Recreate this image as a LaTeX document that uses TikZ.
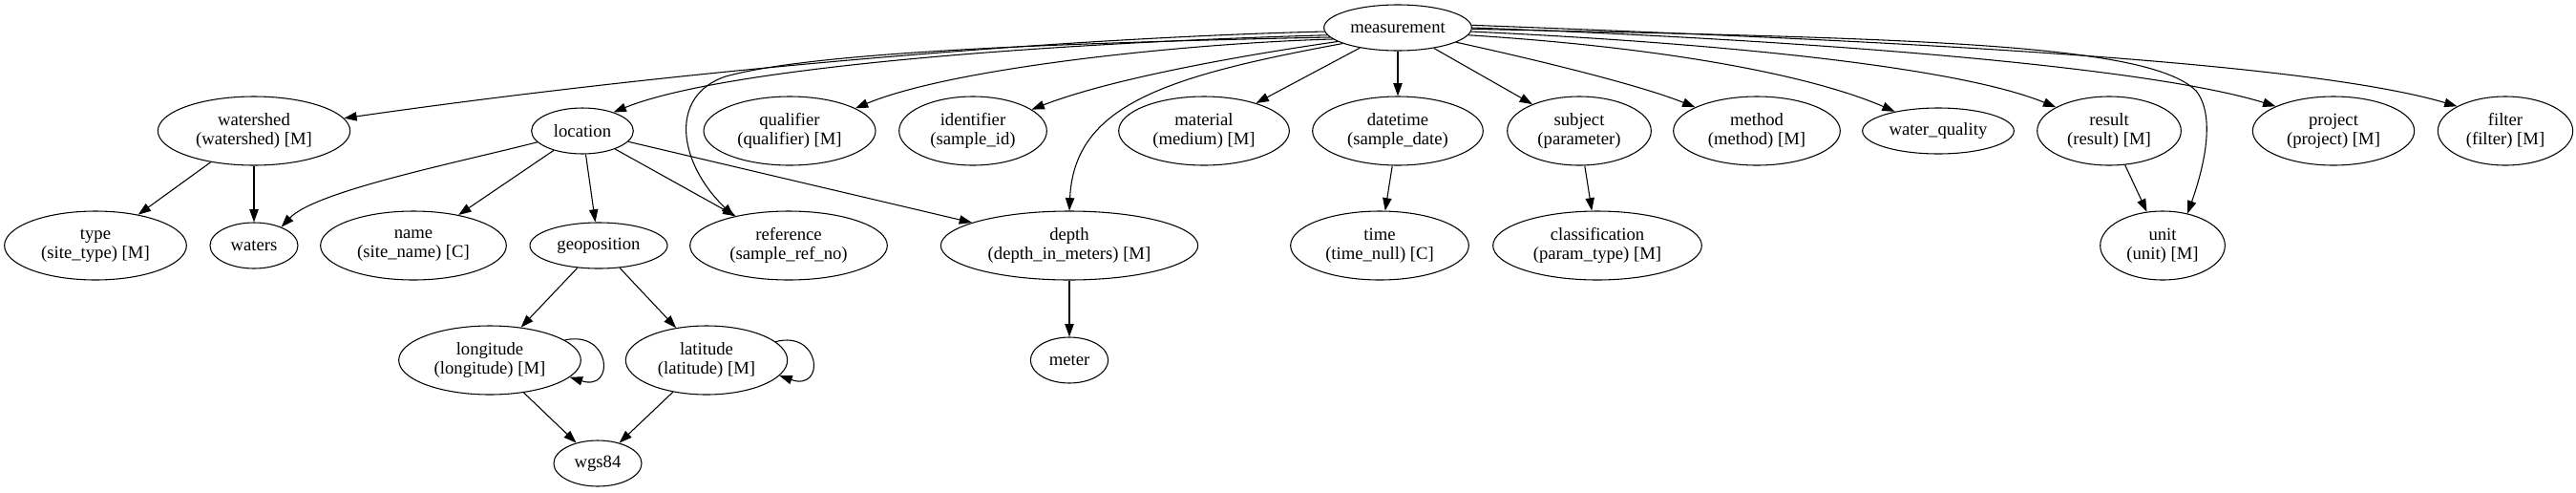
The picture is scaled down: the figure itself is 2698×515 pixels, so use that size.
\documentclass[tikz,border=0pt]{standalone}
\usepackage{fontspec}
\setmainfont{Liberation Serif}
\usetikzlibrary{arrows.meta,shapes.geometric}

\begin{document}
\begin{tikzpicture}[x=0.75pt,y=-0.75pt,every node/.style={font=\fontsize{14}{15}\selectfont},
  ent/.style={draw,ellipse,inner sep=0pt,line width=0.8pt,align=center,minimum height=54pt},
  entone/.style={ent,minimum height=36pt},
  link/.style={line width=0.8pt,-{Triangle[length=10pt,width=7pt]}}]
  \useasboundingbox (0,0) rectangle (2698,515);
  % root
  \node[entone,minimum width=116pt] (meas) at (1464,29) {measurement};
  % first level
  \node[ent,minimum width=151pt] (ws) at (266,137) {watershed\\(watershed) [M]};
  \node[entone,minimum width=80pt] (loc) at (610,137) {location};
  \node[ent,minimum width=135pt] (qual) at (827,137) {qualifier\\(qualifier) [M]};
  \node[ent,minimum width=116pt] (ident) at (1019,137) {identifier\\(sample\_id)};
  \node[ent,minimum width=134pt] (mat) at (1261,137) {material\\(medium) [M]};
  \node[ent,minimum width=134pt] (dt) at (1464,137) {datetime\\(sample\_date)};
  \node[ent,minimum width=113pt] (subj) at (1654,137) {subject\\(parameter)};
  \node[ent,minimum width=131pt] (meth) at (1840,137) {method\\(method) [M]};
  \node[entone,minimum width=119pt] (wq) at (2030,137) {water\_quality};
  \node[ent,minimum width=113pt] (res) at (2209,137) {result\\(result) [M]};
  \node[ent,minimum width=127pt] (proj) at (2444,137) {project\\(project) [M]};
  \node[ent,minimum width=106pt] (filt) at (2624,137) {filter\\(filter) [M]};
  % second level
  \node[ent,minimum width=143pt] (type) at (100,257) {type\\(site\_type) [M]};
  \node[entone,minimum width=69pt] (waters) at (266,257) {waters};
  \node[ent,minimum width=146pt] (name) at (433,257) {name\\(site\_name) [C]};
  \node[entone,minimum width=108pt] (geo) at (627,257) {geoposition};
  \node[ent,minimum width=155pt] (ref) at (826,257) {reference\\(sample\_ref\_no)};
  \node[ent,minimum width=202pt] (depth) at (1120,257) {depth\\(depth\_in\_meters) [M]};
  \node[ent,minimum width=140pt] (tm) at (1445,257) {time\\(time\_null) [C]};
  \node[ent,minimum width=164pt] (cls) at (1673,257) {classification\\(param\_type) [M]};
  \node[ent,minimum width=98pt] (unit) at (2265,257) {unit\\(unit) [M]};
  % third level
  \node[ent,minimum width=143pt] (lon) at (513,377) {longitude\\(longitude) [M]};
  \node[ent,minimum width=127pt] (lat) at (740,377) {latitude\\(latitude) [M]};
  \node[entone,minimum width=61pt] (meter) at (1120,377) {meter};
  \node[entone,minimum width=69pt] (wgs) at (626,485) {wgs84};

  % straight edges
  \foreach \a/\b in {ws/type,ws/waters,loc/name,loc/geo,loc/ref,loc/depth,geo/lon,geo/lat,
    lon/wgs,lat/wgs,depth/meter,meas/mat,meas/dt,meas/subj,dt/tm,subj/cls,res/unit}
    \draw[link] (\a) -- (\b);

  % curved edges from measurement
  \draw[link] (meas.183) .. controls (1100,40) and (700,75) .. (ws.8);
  \draw[link] (meas.186) .. controls (1100,45) and (760,70) .. (loc.31);
  \draw[link] (meas.188) .. controls (1100,45) and (850,55) .. (760,80)
    .. controls (700,100) and (710,170) .. (ref.152);
  \draw[link] (meas.190) .. controls (1250,45) and (1000,70) .. (qual.19);
  \draw[link] (meas.193) .. controls (1320,55) and (1170,80) .. (ident.20);
  \draw[link] (meas.196) .. controls (1220,80) and (1125,110) .. (depth.north);
  \draw[link] (meas.-14) .. controls (1620,65) and (1720,90) .. (meth.159);
  \draw[link] (meas.-6) .. controls (1750,50) and (1900,80) .. (wq.156);
  \draw[link] (meas.-3) .. controls (1800,45) and (2050,70) .. (res.156);
  \draw[link] (meas.-1) .. controls (2000,40) and (2250,45) .. (2300,95)
    .. controls (2320,120) and (2310,170) .. (unit.52);
  \draw[link] (meas.0) .. controls (1900,42) and (2250,70) .. (proj.157);
  \draw[link] (meas.2) .. controls (1900,40) and (2400,60) .. (filt.153);

  % other curves
  \draw[link] (loc.194) .. controls (480,170) and (330,200) .. (waters.34);
  \draw[link] (lon.15) .. controls (640,345) and (645,410) .. (lon.-12);
  \draw[link] (lat.15) .. controls (860,345) and (865,410) .. (lat.-12);
\end{tikzpicture}
\end{document}
